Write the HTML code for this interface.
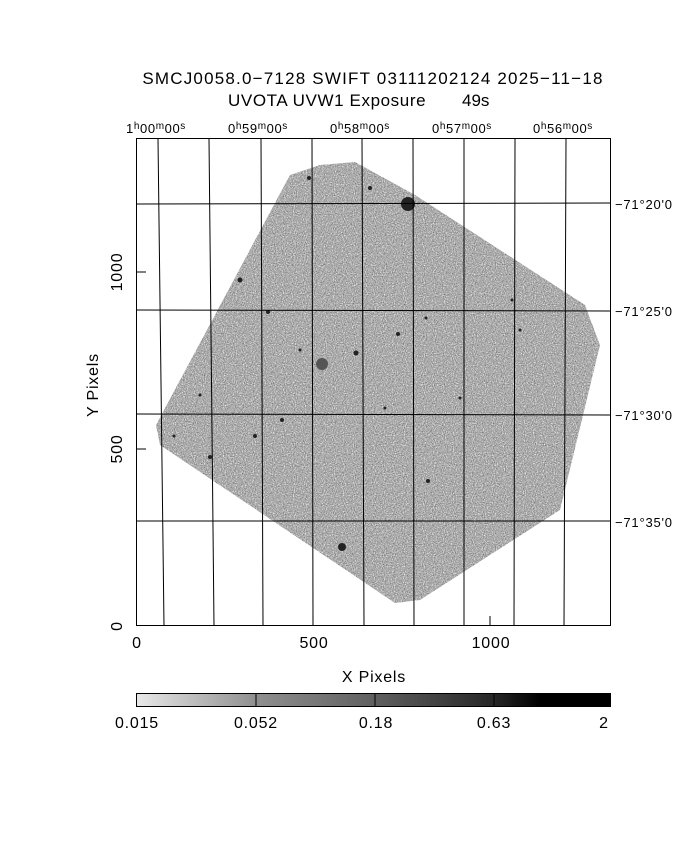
<!DOCTYPE html>
<html><head><meta charset="utf-8"><style>
body{margin:0;background:#fff;}
svg text{font-family:"Liberation Sans",sans-serif;fill:#000;}
</style></head><body>
<svg width="680" height="850" viewBox="0 0 680 850" xmlns="http://www.w3.org/2000/svg">
<defs>
<filter id="nz" x="0" y="0" width="100%" height="100%">
<feTurbulence type="fractalNoise" baseFrequency="0.9" numOctaves="1" seed="3" result="t"/>
<feColorMatrix type="matrix" values="0 0 0 0 0  0 0 0 0 0  0 0 0 0 0  1 0 0 0 0" in="t" result="a"/>
<feComponentTransfer in="a"><feFuncA type="discrete" tableValues="0 0 0 0.3 0.5 0.6 0.75 1 1 1"/></feComponentTransfer>
</filter>
<clipPath id="cp"><polygon points="156,425 290,175 320,165 355,162 415,195 585,305 600,345 560,510 420,600 395,603 160,445"/></clipPath>
<linearGradient id="cb" x1="0" x2="1" y1="0" y2="0">
<stop offset="0" stop-color="#e8e8e8"/><stop offset="0.25" stop-color="#909090"/><stop offset="0.5" stop-color="#606060"/><stop offset="0.75" stop-color="#282828"/><stop offset="0.85" stop-color="#000"/><stop offset="1" stop-color="#000"/>
</linearGradient>
</defs>
<text x="373" y="84" font-size="17" letter-spacing="1.2" text-anchor="middle">SMCJ0058.0−7128 SWIFT 03111202124 2025−11−18</text>
<text x="228" y="106" font-size="17" letter-spacing="0.6">UVOTA UVW1 Exposure</text>
<text x="462" y="106" font-size="17">49s</text>
<g font-size="13" letter-spacing="0.6">
<text x="126" y="133">1<tspan dy="-4" font-size="10">h</tspan><tspan dy="4">00</tspan><tspan dy="-4" font-size="10">m</tspan><tspan dy="4">00</tspan><tspan dy="-4" font-size="10">s</tspan></text>
<text x="228" y="133">0<tspan dy="-4" font-size="10">h</tspan><tspan dy="4">59</tspan><tspan dy="-4" font-size="10">m</tspan><tspan dy="4">00</tspan><tspan dy="-4" font-size="10">s</tspan></text>
<text x="330" y="133">0<tspan dy="-4" font-size="10">h</tspan><tspan dy="4">58</tspan><tspan dy="-4" font-size="10">m</tspan><tspan dy="4">00</tspan><tspan dy="-4" font-size="10">s</tspan></text>
<text x="432" y="133">0<tspan dy="-4" font-size="10">h</tspan><tspan dy="4">57</tspan><tspan dy="-4" font-size="10">m</tspan><tspan dy="4">00</tspan><tspan dy="-4" font-size="10">s</tspan></text>
<text x="533" y="133">0<tspan dy="-4" font-size="10">h</tspan><tspan dy="4">56</tspan><tspan dy="-4" font-size="10">m</tspan><tspan dy="4">00</tspan><tspan dy="-4" font-size="10">s</tspan></text>
</g>
<g clip-path="url(#cp)">
<rect x="150" y="155" width="460" height="455" fill="#ececec"/>
<rect x="150" y="155" width="460" height="455" fill="#000" filter="url(#nz)" opacity="0.5"/>
<g fill="#222">
<circle cx="408" cy="204" r="7"/><circle cx="322" cy="364" r="6" fill="#555"/><circle cx="342" cy="547" r="4"/><circle cx="282" cy="420" r="2"/>
<circle cx="240" cy="280" r="2.5"/><circle cx="268" cy="312" r="2"/><circle cx="356" cy="353" r="2.5"/><circle cx="398" cy="334" r="2"/>
<circle cx="428" cy="481" r="2"/><circle cx="210" cy="457" r="2"/><circle cx="255" cy="436" r="2"/><circle cx="309" cy="178" r="2"/>
<circle cx="370" cy="188" r="2"/><circle cx="520" cy="330" r="1.5"/><circle cx="200" cy="395" r="1.5"/><circle cx="174" cy="436" r="1.5"/>
<circle cx="300" cy="350" r="1.5"/><circle cx="385" cy="408" r="1.5"/><circle cx="460" cy="398" r="1.5"/><circle cx="352" cy="577" r="2"/>
<circle cx="216" cy="484" r="1.5"/><circle cx="426" cy="318" r="1.5"/><circle cx="512" cy="300" r="1.5"/><circle cx="270" cy="540" r="1.5"/>
</g>
</g>
<g stroke="#000" stroke-width="1" fill="none">
<rect x="136.5" y="138.5" width="474" height="487"/>
<line x1="158" y1="139" x2="164" y2="626"/><line x1="209" y1="139" x2="214" y2="626"/><line x1="261" y1="139" x2="263" y2="626"/>
<line x1="312" y1="139" x2="313" y2="626"/><line x1="362" y1="139" x2="364" y2="626"/><line x1="413" y1="139" x2="414" y2="626"/>
<line x1="464" y1="139" x2="464" y2="626"/><line x1="515" y1="139" x2="514" y2="626"/><line x1="566" y1="139" x2="564" y2="626"/>
<line x1="137" y1="204" x2="610" y2="203"/><line x1="137" y1="310" x2="610" y2="311"/><line x1="137" y1="414" x2="610" y2="415"/><line x1="137" y1="521" x2="610" y2="521"/>
<line x1="136" y1="272" x2="146" y2="272"/><line x1="136" y1="449" x2="146" y2="449"/>
<line x1="313" y1="626" x2="313" y2="616"/><line x1="490" y1="626" x2="490" y2="616"/>
</g>
<g font-size="13" letter-spacing="0.8">
<text x="615" y="209">−71°20'0</text><text x="615" y="316">−71°25'0</text><text x="615" y="420">−71°30'0</text><text x="615" y="527">−71°35'0</text>
</g>
<g font-size="16" letter-spacing="0.8" text-anchor="middle">
<text x="137" y="648">0</text><text x="314" y="648">500</text><text x="491" y="648">1000</text>
<text x="374" y="682">X Pixels</text>
<text transform="translate(122,626) rotate(-90)">0</text>
<text transform="translate(122,449) rotate(-90)">500</text>
<text transform="translate(122,272) rotate(-90)">1000</text>
<text transform="translate(98,385) rotate(-90)">Y Pixels</text>
</g>
<rect x="136.5" y="693.5" width="474" height="13" fill="url(#cb)" stroke="#000"/>
<g stroke="#000"><line x1="256" y1="694" x2="256" y2="706"/><line x1="375" y1="694" x2="375" y2="706"/><line x1="494" y1="694" x2="494" y2="706"/></g>
<g font-size="16" letter-spacing="0.8" text-anchor="middle">
<text x="137" y="728">0.015</text><text x="256" y="728">0.052</text><text x="376" y="728">0.18</text><text x="494" y="728">0.63</text><text x="604" y="728">2</text>
</g>
</svg>
</body></html>
